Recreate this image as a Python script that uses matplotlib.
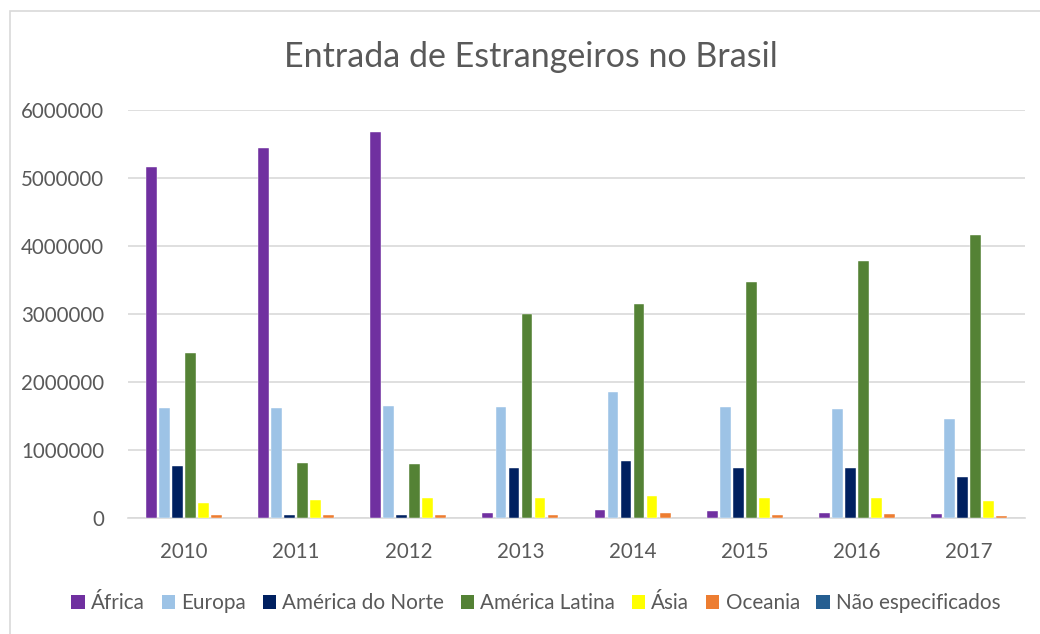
import matplotlib
matplotlib.use("Agg")
import matplotlib.pyplot as plt
from matplotlib.patches import Patch, Rectangle
import numpy as np

plt.rcParams['font.family'] = ['Lato', 'DejaVu Sans']

# data
years = ["2010", "2011", "2012", "2013", "2014", "2015", "2016", "2017"]
africa = [5160000, 5440000, 5680000, 80000, 120000, 100000, 70000, 60000]
europa = [1620000, 1620000, 1650000, 1630000, 1850000, 1630000, 1600000, 1450000]
america_norte = [770000, 40000, 40000, 730000, 840000, 730000, 730000, 600000]
america_latina = [2430000, 810000, 800000, 3000000, 3140000, 3470000, 3780000, 4160000]
asia = [216000, 270000, 290000, 300000, 330000, 300000, 300000, 250000]
oceania = [44000, 40000, 40000, 50000, 70000, 50000, 60000, 30000]
nao_especificados = [0, 0, 0, 0, 0, 0, 0, 0]

series = [
    ("África", africa, "#7030A0"),
    ("Europa", europa, "#9DC3E6"),
    ("América do Norte", america_norte, "#002060"),
    ("América Latina", america_latina, "#548235"),
    ("Ásia", asia, "#FFFF00"),
    ("Oceania", oceania, "#ED7D31"),
]
extra_label, extra_color = "Não especificados", "#255E91"

text_color = "#595959"
grid_color = "#D9D9D9"

fig = plt.figure(figsize=(10.4, 6.34), dpi=100)
ax = fig.add_axes([128 / 1040, 1 - 518 / 634, 897 / 1040, 408 / 634])

x = np.arange(len(years))
pitch = 13 / 112
width = 10.8 / 112
n = len(series)
for i, (label, vals, color) in enumerate(series):
    offset = (i - (n - 1) / 2) * pitch
    ax.bar(x + offset, vals, width=width, color=color, label=label,
           edgecolor="white", linewidth=0.3, zorder=3)

ax.set_xlim(-0.5, len(years) - 0.5)
ax.set_ylim(0, 6000000)
ax.set_yticks(np.arange(0, 6000001, 1000000))
ax.set_yticklabels([str(v) for v in range(0, 6000001, 1000000)])
ax.set_xticks(x)
ax.set_xticklabels(years)
ax.tick_params(axis="both", length=0, labelsize=14.8, colors=text_color)
ax.tick_params(axis="x", pad=17)
ax.tick_params(axis="y", pad=17)
ax.grid(axis="y", color=grid_color, linewidth=1.2, zorder=0)
for s in ["top", "right", "left"]:
    ax.spines[s].set_visible(False)
ax.spines["bottom"].set_color(grid_color)
ax.spines["bottom"].set_linewidth(1.2)

fig.text(531 / 1040, 1 - 57 / 634, "Entrada de Estrangeiros no Brasil", ha="center",
         va="center", fontsize=24.5, color=text_color)

handles = [Patch(facecolor=c, label=l) for l, _, c in series]
handles.append(Patch(facecolor=extra_color, label=extra_label))
fig.legend(handles=handles, loc="center", bbox_to_anchor=(536 / 1040, 1 - 603 / 634),
           ncol=7, frameon=False, fontsize=14.9, labelcolor=text_color,
           handlelength=0.65, handleheight=0.65, handletextpad=0.3, columnspacing=0.8)

# chart border (cropped at right and bottom in the reference)
fig.add_artist(Rectangle((9.5 / 1040, -0.1), 1.2, 1 - 10.5 / 634 + 0.1,
                         transform=fig.transFigure, fill=False,
                         edgecolor=grid_color, linewidth=1.2))

fig.savefig("out.png", dpi=100)
